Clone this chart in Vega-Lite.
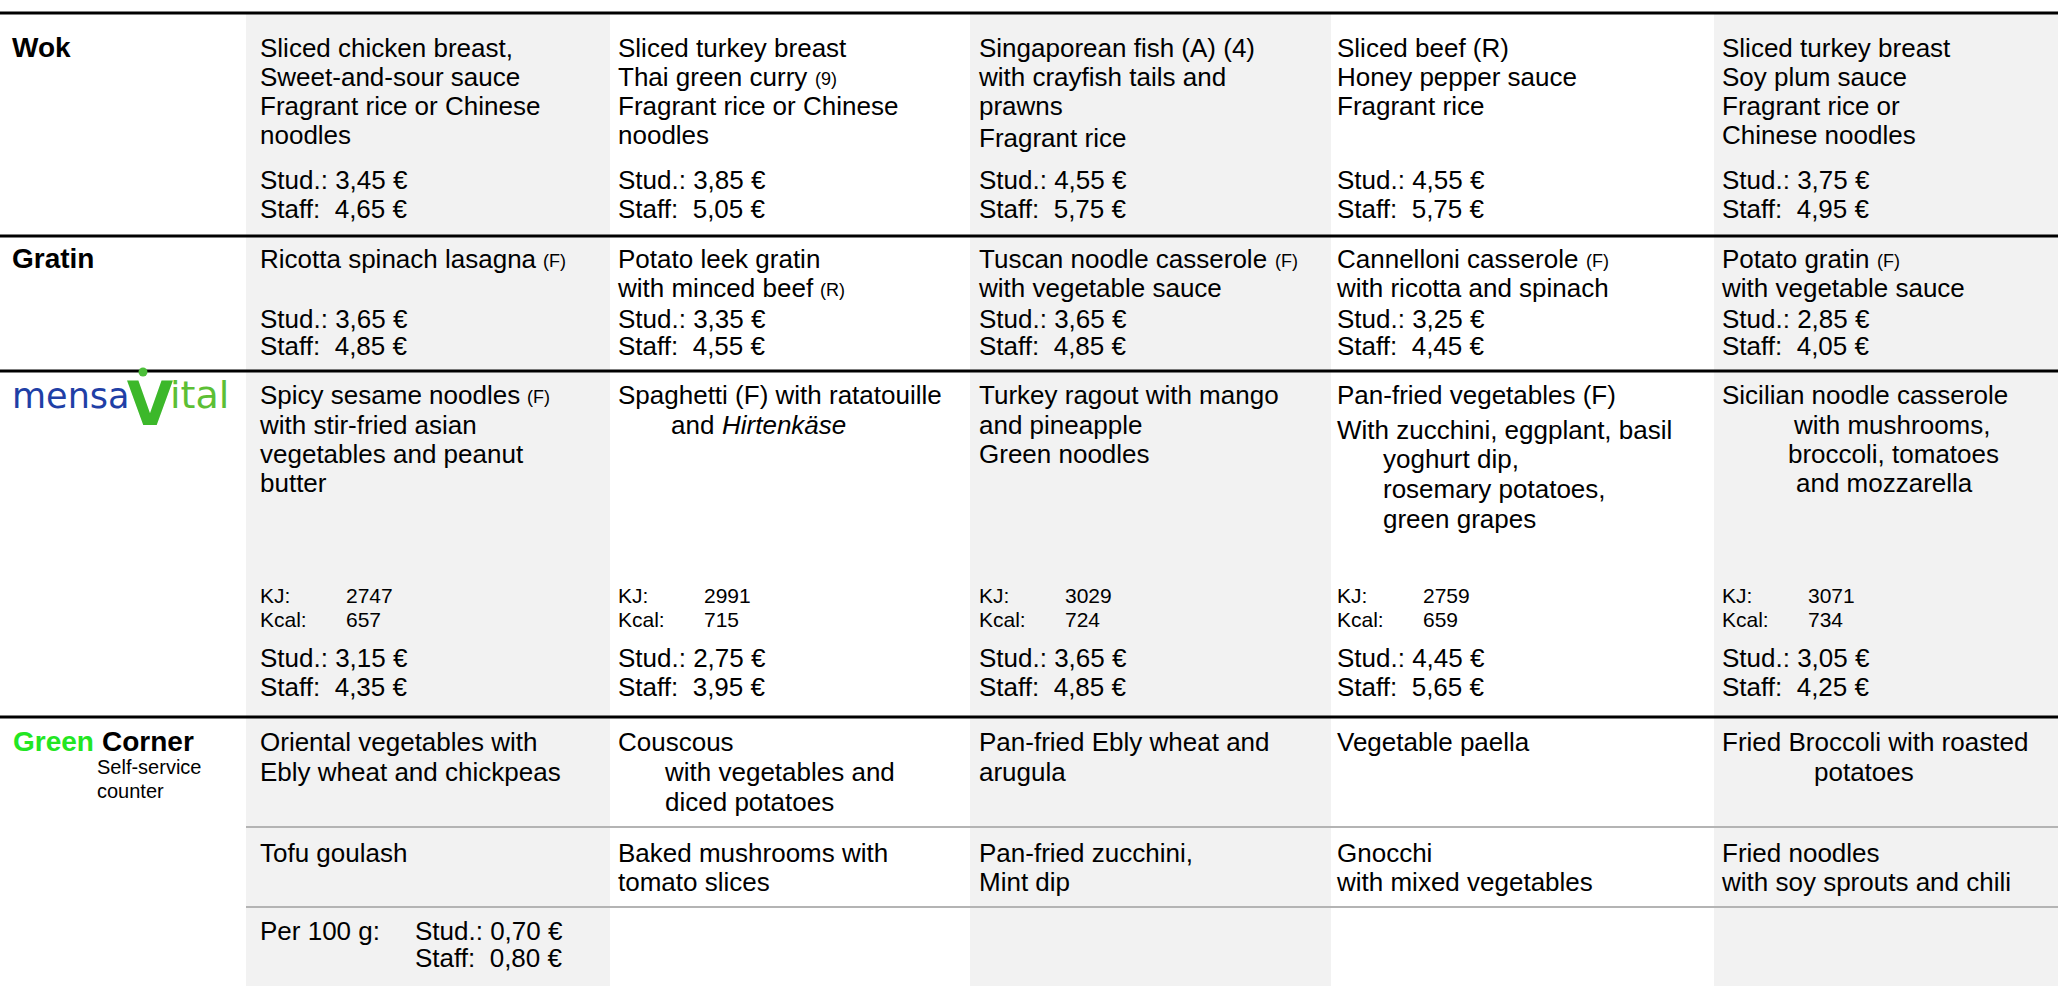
{
  "$schema": "https://vega.github.io/schema/vega-lite/v6.json",
  "width": 2058,
  "height": 986,
  "autosize": "none",
  "padding": 0,
  "background": "white",
  "config": {"view": {"stroke": null}},
  "datasets": {
    "xs": [
      {"xkey": "b0", "x": 0}, {"xkey": "b1", "x": 246}, {"xkey": "b2", "x": 610}, {"xkey": "b3", "x": 970},
      {"xkey": "b4", "x": 1331}, {"xkey": "b5", "x": 1714}, {"xkey": "b6", "x": 2058},
      {"xkey": "L", "x": 12}, {"xkey": "Lgreen", "x": 13}, {"xkey": "Lcorner", "x": 102}, {"xkey": "Lsub", "x": 97},
      {"xkey": "Lm", "x": 12}, {"xkey": "Lv", "x": 150}, {"xkey": "Lh", "x": 143}, {"xkey": "Li", "x": 170},
      {"xkey": "Mon", "x": 260}, {"xkey": "Tue", "x": 618}, {"xkey": "Wed", "x": 979}, {"xkey": "Thu", "x": 1337}, {"xkey": "Fri", "x": 1722},
      {"xkey": "MonV", "x": 346}, {"xkey": "TueV", "x": 704}, {"xkey": "WedV", "x": 1065}, {"xkey": "ThuV", "x": 1423}, {"xkey": "FriV", "x": 1808},
      {"xkey": "MonP", "x": 415},
      {"xkey": "TueI", "x": 665}, {"xkey": "TueA", "x": 671}, {"xkey": "TueIt", "x": 722},
      {"xkey": "ThuI", "x": 1383},
      {"xkey": "FriI1", "x": 1794}, {"xkey": "FriI2", "x": 1788}, {"xkey": "FriI3", "x": 1796}, {"xkey": "FriI4", "x": 1814},
      {"xkey": "TueN1", "x": 815}, {"xkey": "MonN1", "x": 543}, {"xkey": "TueN2", "x": 820}, {"xkey": "WedN", "x": 1275},
      {"xkey": "ThuN", "x": 1586}, {"xkey": "FriN", "x": 1877}, {"xkey": "MonN2", "x": 527}
    ],
    "ys": [
      {"ykey": "rT", "y": 13}, {"ykey": "sT", "y": 14}, {"ykey": "sB", "y": 986},
      {"ykey": "w1", "y": 48.5}, {"ykey": "w2", "y": 77.5}, {"ykey": "w3", "y": 106.5}, {"ykey": "w4", "y": 136}, {"ykey": "w4b", "y": 139},
      {"ykey": "wS", "y": 181}, {"ykey": "wF", "y": 210}, {"ykey": "r1", "y": 236},
      {"ykey": "g1", "y": 260}, {"ykey": "g2", "y": 289}, {"ykey": "gS", "y": 320}, {"ykey": "gF", "y": 347}, {"ykey": "r2", "y": 371},
      {"ykey": "m1", "y": 396}, {"ykey": "m2", "y": 426}, {"ykey": "m3", "y": 455}, {"ykey": "m4", "y": 484},
      {"ykey": "t2", "y": 431}, {"ykey": "t3", "y": 460}, {"ykey": "t4", "y": 490}, {"ykey": "t5", "y": 520},
      {"ykey": "kj", "y": 597}, {"ykey": "kc", "y": 621}, {"ykey": "mS", "y": 659}, {"ykey": "mF", "y": 688}, {"ykey": "r3", "y": 717},
      {"ykey": "logo", "y": 397}, {"ykey": "logoV", "y": 407}, {"ykey": "head", "y": 372},
      {"ykey": "c1", "y": 743}, {"ykey": "c2", "y": 773}, {"ykey": "c3", "y": 803}, {"ykey": "gr1", "y": 827},
      {"ykey": "d1", "y": 854}, {"ykey": "d2", "y": 883}, {"ykey": "gr2", "y": 907}, {"ykey": "p1", "y": 932}, {"ykey": "p2", "y": 959},
      {"ykey": "lb1", "y": 768}, {"ykey": "lb2", "y": 792}
    ],
    "shade": [
      {"c": "b1", "c2": "b2", "r": "sT", "r2": "sB"},
      {"c": "b3", "c2": "b4", "r": "sT", "r2": "sB"},
      {"c": "b5", "c2": "b6", "r": "sT", "r2": "sB"}
    ],
    "blackRules": [
      {"c": "b0", "c2": "b6", "r": "rT"},
      {"c": "b0", "c2": "b6", "r": "r1"},
      {"c": "b0", "c2": "b6", "r": "r2"},
      {"c": "b0", "c2": "b6", "r": "r3"}
    ],
    "greyRules": [
      {"c": "b1", "c2": "b6", "r": "gr1"},
      {"c": "b1", "c2": "b6", "r": "gr2"}
    ],
    "cells": [
      {"c": "Mon", "r": "w1", "t": "Sliced chicken breast,"},
      {"c": "Mon", "r": "w2", "t": "Sweet-and-sour sauce"},
      {"c": "Mon", "r": "w3", "t": "Fragrant rice or Chinese"},
      {"c": "Mon", "r": "w4", "t": "noodles"},
      {"c": "Mon", "r": "wS", "t": "Stud.: 3,45 €"},
      {"c": "Mon", "r": "wF", "t": "Staff:\u00a0 4,65 €"},
      {"c": "Tue", "r": "w1", "t": "Sliced turkey breast"},
      {"c": "Tue", "r": "w2", "t": "Thai green curry"},
      {"c": "Tue", "r": "w3", "t": "Fragrant rice or Chinese"},
      {"c": "Tue", "r": "w4", "t": "noodles"},
      {"c": "Tue", "r": "wS", "t": "Stud.: 3,85 €"},
      {"c": "Tue", "r": "wF", "t": "Staff:\u00a0 5,05 €"},
      {"c": "Wed", "r": "w1", "t": "Singaporean fish (A) (4)"},
      {"c": "Wed", "r": "w2", "t": "with crayfish tails and"},
      {"c": "Wed", "r": "w3", "t": "prawns"},
      {"c": "Wed", "r": "w4b", "t": "Fragrant rice"},
      {"c": "Wed", "r": "wS", "t": "Stud.: 4,55 €"},
      {"c": "Wed", "r": "wF", "t": "Staff:\u00a0 5,75 €"},
      {"c": "Thu", "r": "w1", "t": "Sliced beef (R)"},
      {"c": "Thu", "r": "w2", "t": "Honey pepper sauce"},
      {"c": "Thu", "r": "w3", "t": "Fragrant rice"},
      {"c": "Thu", "r": "wS", "t": "Stud.: 4,55 €"},
      {"c": "Thu", "r": "wF", "t": "Staff:\u00a0 5,75 €"},
      {"c": "Fri", "r": "w1", "t": "Sliced turkey breast"},
      {"c": "Fri", "r": "w2", "t": "Soy plum sauce"},
      {"c": "Fri", "r": "w3", "t": "Fragrant rice or"},
      {"c": "Fri", "r": "w4", "t": "Chinese noodles"},
      {"c": "Fri", "r": "wS", "t": "Stud.: 3,75 €"},
      {"c": "Fri", "r": "wF", "t": "Staff:\u00a0 4,95 €"},

      {"c": "Mon", "r": "g1", "t": "Ricotta spinach lasagna"},
      {"c": "Mon", "r": "gS", "t": "Stud.: 3,65 €"},
      {"c": "Mon", "r": "gF", "t": "Staff:\u00a0 4,85 €"},
      {"c": "Tue", "r": "g1", "t": "Potato leek gratin"},
      {"c": "Tue", "r": "g2", "t": "with minced beef"},
      {"c": "Tue", "r": "gS", "t": "Stud.: 3,35 €"},
      {"c": "Tue", "r": "gF", "t": "Staff:\u00a0 4,55 €"},
      {"c": "Wed", "r": "g1", "t": "Tuscan noodle casserole"},
      {"c": "Wed", "r": "g2", "t": "with vegetable sauce"},
      {"c": "Wed", "r": "gS", "t": "Stud.: 3,65 €"},
      {"c": "Wed", "r": "gF", "t": "Staff:\u00a0 4,85 €"},
      {"c": "Thu", "r": "g1", "t": "Cannelloni casserole"},
      {"c": "Thu", "r": "g2", "t": "with ricotta and spinach"},
      {"c": "Thu", "r": "gS", "t": "Stud.: 3,25 €"},
      {"c": "Thu", "r": "gF", "t": "Staff:\u00a0 4,45 €"},
      {"c": "Fri", "r": "g1", "t": "Potato gratin"},
      {"c": "Fri", "r": "g2", "t": "with vegetable sauce"},
      {"c": "Fri", "r": "gS", "t": "Stud.: 2,85 €"},
      {"c": "Fri", "r": "gF", "t": "Staff:\u00a0 4,05 €"},

      {"c": "Mon", "r": "m1", "t": "Spicy sesame noodles"},
      {"c": "Mon", "r": "m2", "t": "with stir-fried asian"},
      {"c": "Mon", "r": "m3", "t": "vegetables and peanut"},
      {"c": "Mon", "r": "m4", "t": "butter"},
      {"c": "Mon", "r": "mS", "t": "Stud.: 3,15 €"},
      {"c": "Mon", "r": "mF", "t": "Staff:\u00a0 4,35 €"},
      {"c": "Tue", "r": "m1", "t": "Spaghetti (F) with ratatouille"},
      {"c": "TueA", "r": "m2", "t": "and"},
      {"c": "Tue", "r": "mS", "t": "Stud.: 2,75 €"},
      {"c": "Tue", "r": "mF", "t": "Staff:\u00a0 3,95 €"},
      {"c": "Wed", "r": "m1", "t": "Turkey ragout with mango"},
      {"c": "Wed", "r": "m2", "t": "and pineapple"},
      {"c": "Wed", "r": "m3", "t": "Green noodles"},
      {"c": "Wed", "r": "mS", "t": "Stud.: 3,65 €"},
      {"c": "Wed", "r": "mF", "t": "Staff:\u00a0 4,85 €"},
      {"c": "Thu", "r": "m1", "t": "Pan-fried vegetables (F)"},
      {"c": "Thu", "r": "t2", "t": "With zucchini, eggplant, basil"},
      {"c": "ThuI", "r": "t3", "t": "yoghurt dip,"},
      {"c": "ThuI", "r": "t4", "t": "rosemary potatoes,"},
      {"c": "ThuI", "r": "t5", "t": "green grapes"},
      {"c": "Thu", "r": "mS", "t": "Stud.: 4,45 €"},
      {"c": "Thu", "r": "mF", "t": "Staff:\u00a0 5,65 €"},
      {"c": "Fri", "r": "m1", "t": "Sicilian noodle casserole"},
      {"c": "FriI1", "r": "m2", "t": "with mushrooms,"},
      {"c": "FriI2", "r": "m3", "t": "broccoli, tomatoes"},
      {"c": "FriI3", "r": "m4", "t": "and mozzarella"},
      {"c": "Fri", "r": "mS", "t": "Stud.: 3,05 €"},
      {"c": "Fri", "r": "mF", "t": "Staff:\u00a0 4,25 €"},

      {"c": "Mon", "r": "c1", "t": "Oriental vegetables with"},
      {"c": "Mon", "r": "c2", "t": "Ebly wheat and chickpeas"},
      {"c": "Mon", "r": "d1", "t": "Tofu goulash"},
      {"c": "Mon", "r": "p1", "t": "Per 100 g:"},
      {"c": "MonP", "r": "p1", "t": "Stud.: 0,70 €"},
      {"c": "MonP", "r": "p2", "t": "Staff:\u00a0 0,80 €"},
      {"c": "Tue", "r": "c1", "t": "Couscous"},
      {"c": "TueI", "r": "c2", "t": "with vegetables and"},
      {"c": "TueI", "r": "c3", "t": "diced potatoes"},
      {"c": "Tue", "r": "d1", "t": "Baked mushrooms with"},
      {"c": "Tue", "r": "d2", "t": "tomato slices"},
      {"c": "Wed", "r": "c1", "t": "Pan-fried Ebly wheat and"},
      {"c": "Wed", "r": "c2", "t": "arugula"},
      {"c": "Wed", "r": "d1", "t": "Pan-fried zucchini,"},
      {"c": "Wed", "r": "d2", "t": "Mint dip"},
      {"c": "Thu", "r": "c1", "t": "Vegetable paella"},
      {"c": "Thu", "r": "d1", "t": "Gnocchi"},
      {"c": "Thu", "r": "d2", "t": "with mixed vegetables"},
      {"c": "Fri", "r": "c1", "t": "Fried Broccoli with roasted"},
      {"c": "FriI4", "r": "c2", "t": "potatoes"},
      {"c": "Fri", "r": "d1", "t": "Fried noodles"},
      {"c": "Fri", "r": "d2", "t": "with soy sprouts and chili"}
    ],
    "notes": [
      {"c": "TueN1", "r": "w2", "t": "(9)"},
      {"c": "MonN1", "r": "g1", "t": "(F)"},
      {"c": "TueN2", "r": "g2", "t": "(R)"},
      {"c": "WedN", "r": "g1", "t": "(F)"},
      {"c": "ThuN", "r": "g1", "t": "(F)"},
      {"c": "FriN", "r": "g1", "t": "(F)"},
      {"c": "MonN2", "r": "m1", "t": "(F)"}
    ],
    "nutri": [
      {"c": "Mon", "r": "kj", "t": "KJ:"}, {"c": "MonV", "r": "kj", "t": "2747"},
      {"c": "Mon", "r": "kc", "t": "Kcal:"}, {"c": "MonV", "r": "kc", "t": "657"},
      {"c": "Tue", "r": "kj", "t": "KJ:"}, {"c": "TueV", "r": "kj", "t": "2991"},
      {"c": "Tue", "r": "kc", "t": "Kcal:"}, {"c": "TueV", "r": "kc", "t": "715"},
      {"c": "Wed", "r": "kj", "t": "KJ:"}, {"c": "WedV", "r": "kj", "t": "3029"},
      {"c": "Wed", "r": "kc", "t": "Kcal:"}, {"c": "WedV", "r": "kc", "t": "724"},
      {"c": "Thu", "r": "kj", "t": "KJ:"}, {"c": "ThuV", "r": "kj", "t": "2759"},
      {"c": "Thu", "r": "kc", "t": "Kcal:"}, {"c": "ThuV", "r": "kc", "t": "659"},
      {"c": "Fri", "r": "kj", "t": "KJ:"}, {"c": "FriV", "r": "kj", "t": "3071"},
      {"c": "Fri", "r": "kc", "t": "Kcal:"}, {"c": "FriV", "r": "kc", "t": "734"}
    ],
    "heads": [
      {"c": "L", "r": "w1", "t": "Wok"},
      {"c": "L", "r": "g1", "t": "Gratin"},
      {"c": "Lcorner", "r": "c1", "t": "Corner"}
    ],
    "greenHead": [
      {"c": "Lgreen", "r": "c1", "t": "Green"}
    ],
    "subs": [
      {"c": "Lsub", "r": "lb1", "t": "Self-service"},
      {"c": "Lsub", "r": "lb2", "t": "counter"}
    ],
    "italic": [
      {"c": "TueIt", "r": "m2", "t": "Hirtenkäse"}
    ],
    "logoBlue": [
      {"c": "Lm", "r": "logo", "t": "mensa"}
    ],
    "logoGreen": [
      {"c": "Li", "r": "logo", "t": "ital"}
    ],
    "logoV": [
      {"c": "Lv", "r": "logoV", "t": "V"}
    ],
    "logoHead": [
      {"c": "Lh", "r": "head"}
    ]
  },
  "encoding": {
    "x": {"field": "x", "type": "quantitative", "scale": {"domain": [0, 2058], "nice": false, "zero": false}, "axis": null},
    "y": {"field": "y", "type": "quantitative", "scale": {"domain": [0, 986], "reverse": true, "nice": false, "zero": false}, "axis": null}
  },
  "layer": [
    {
      "data": {"name": "shade"},
      "transform": [
        {"lookup": "c", "from": {"data": {"name": "xs"}, "key": "xkey", "fields": ["x"]}},
        {"lookup": "c2", "from": {"data": {"name": "xs"}, "key": "xkey", "fields": ["x"]}, "as": ["x2"]},
        {"lookup": "r", "from": {"data": {"name": "ys"}, "key": "ykey", "fields": ["y"]}},
        {"lookup": "r2", "from": {"data": {"name": "ys"}, "key": "ykey", "fields": ["y"]}, "as": ["y2"]}
      ],
      "mark": {"type": "rect", "color": "#f2f2f2"},
      "encoding": {"x2": {"field": "x2"}, "y2": {"field": "y2"}}
    },
    {
      "data": {"name": "greyRules"},
      "transform": [
        {"lookup": "c", "from": {"data": {"name": "xs"}, "key": "xkey", "fields": ["x"]}},
        {"lookup": "c2", "from": {"data": {"name": "xs"}, "key": "xkey", "fields": ["x"]}, "as": ["x2"]},
        {"lookup": "r", "from": {"data": {"name": "ys"}, "key": "ykey", "fields": ["y"]}}
      ],
      "mark": {"type": "rule", "color": "#b4b4b4", "strokeWidth": 2},
      "encoding": {"x2": {"field": "x2"}}
    },
    {
      "data": {"name": "blackRules"},
      "transform": [
        {"lookup": "c", "from": {"data": {"name": "xs"}, "key": "xkey", "fields": ["x"]}},
        {"lookup": "c2", "from": {"data": {"name": "xs"}, "key": "xkey", "fields": ["x"]}, "as": ["x2"]},
        {"lookup": "r", "from": {"data": {"name": "ys"}, "key": "ykey", "fields": ["y"]}}
      ],
      "mark": {"type": "rule", "color": "#000000", "strokeWidth": 3},
      "encoding": {"x2": {"field": "x2"}}
    },
    {
      "data": {"name": "cells"},
      "transform": [
        {"lookup": "c", "from": {"data": {"name": "xs"}, "key": "xkey", "fields": ["x"]}},
        {"lookup": "r", "from": {"data": {"name": "ys"}, "key": "ykey", "fields": ["y"]}}
      ],
      "mark": {"type": "text", "align": "left", "baseline": "middle", "font": "Liberation Sans", "fontSize": 26, "color": "#000000"},
      "encoding": {"text": {"field": "t"}}
    },
    {
      "data": {"name": "notes"},
      "transform": [
        {"lookup": "c", "from": {"data": {"name": "xs"}, "key": "xkey", "fields": ["x"]}},
        {"lookup": "r", "from": {"data": {"name": "ys"}, "key": "ykey", "fields": ["y"]}}
      ],
      "mark": {"type": "text", "align": "left", "baseline": "middle", "dy": 2, "font": "Liberation Sans", "fontSize": 18, "color": "#000000"},
      "encoding": {"text": {"field": "t"}}
    },
    {
      "data": {"name": "nutri"},
      "transform": [
        {"lookup": "c", "from": {"data": {"name": "xs"}, "key": "xkey", "fields": ["x"]}},
        {"lookup": "r", "from": {"data": {"name": "ys"}, "key": "ykey", "fields": ["y"]}}
      ],
      "mark": {"type": "text", "align": "left", "baseline": "middle", "font": "Liberation Sans", "fontSize": 21, "color": "#000000"},
      "encoding": {"text": {"field": "t"}}
    },
    {
      "data": {"name": "heads"},
      "transform": [
        {"lookup": "c", "from": {"data": {"name": "xs"}, "key": "xkey", "fields": ["x"]}},
        {"lookup": "r", "from": {"data": {"name": "ys"}, "key": "ykey", "fields": ["y"]}}
      ],
      "mark": {"type": "text", "align": "left", "baseline": "middle", "font": "Liberation Sans", "fontWeight": "bold", "fontSize": 28, "color": "#000000"},
      "encoding": {"text": {"field": "t"}}
    },
    {
      "data": {"name": "greenHead"},
      "transform": [
        {"lookup": "c", "from": {"data": {"name": "xs"}, "key": "xkey", "fields": ["x"]}},
        {"lookup": "r", "from": {"data": {"name": "ys"}, "key": "ykey", "fields": ["y"]}}
      ],
      "mark": {"type": "text", "align": "left", "baseline": "middle", "font": "Liberation Sans", "fontWeight": "bold", "fontSize": 28, "color": "#22e622"},
      "encoding": {"text": {"field": "t"}}
    },
    {
      "data": {"name": "subs"},
      "transform": [
        {"lookup": "c", "from": {"data": {"name": "xs"}, "key": "xkey", "fields": ["x"]}},
        {"lookup": "r", "from": {"data": {"name": "ys"}, "key": "ykey", "fields": ["y"]}}
      ],
      "mark": {"type": "text", "align": "left", "baseline": "middle", "font": "Liberation Sans", "fontSize": 20, "color": "#000000"},
      "encoding": {"text": {"field": "t"}}
    },
    {
      "data": {"name": "italic"},
      "transform": [
        {"lookup": "c", "from": {"data": {"name": "xs"}, "key": "xkey", "fields": ["x"]}},
        {"lookup": "r", "from": {"data": {"name": "ys"}, "key": "ykey", "fields": ["y"]}}
      ],
      "mark": {"type": "text", "align": "left", "baseline": "middle", "font": "Liberation Sans", "fontStyle": "italic", "fontSize": 26, "color": "#000000"},
      "encoding": {"text": {"field": "t"}}
    },
    {
      "data": {"name": "logoBlue"},
      "transform": [
        {"lookup": "c", "from": {"data": {"name": "xs"}, "key": "xkey", "fields": ["x"]}},
        {"lookup": "r", "from": {"data": {"name": "ys"}, "key": "ykey", "fields": ["y"]}}
      ],
      "mark": {"type": "text", "align": "left", "baseline": "middle", "font": "DejaVu Sans", "fontSize": 35, "color": "#1f3fa6"},
      "encoding": {"text": {"field": "t"}}
    },
    {
      "data": {"name": "logoGreen"},
      "transform": [
        {"lookup": "c", "from": {"data": {"name": "xs"}, "key": "xkey", "fields": ["x"]}},
        {"lookup": "r", "from": {"data": {"name": "ys"}, "key": "ykey", "fields": ["y"]}}
      ],
      "mark": {"type": "text", "align": "left", "baseline": "middle", "font": "DejaVu Sans", "fontSize": 38, "color": "#5cbf35"},
      "encoding": {"text": {"field": "t"}}
    },
    {
      "data": {"name": "logoV"},
      "transform": [
        {"lookup": "c", "from": {"data": {"name": "xs"}, "key": "xkey", "fields": ["x"]}},
        {"lookup": "r", "from": {"data": {"name": "ys"}, "key": "ykey", "fields": ["y"]}}
      ],
      "mark": {"type": "text", "align": "center", "baseline": "middle", "font": "DejaVu Sans", "fontWeight": "bold", "fontSize": 60, "color": "#3cb82a"},
      "encoding": {"text": {"field": "t"}}
    },
    {
      "data": {"name": "logoHead"},
      "transform": [
        {"lookup": "c", "from": {"data": {"name": "xs"}, "key": "xkey", "fields": ["x"]}},
        {"lookup": "r", "from": {"data": {"name": "ys"}, "key": "ykey", "fields": ["y"]}}
      ],
      "mark": {"type": "point", "filled": true, "size": 80, "opacity": 1, "color": "#4cbf3a"},
      "encoding": {}
    }
  ]
}
